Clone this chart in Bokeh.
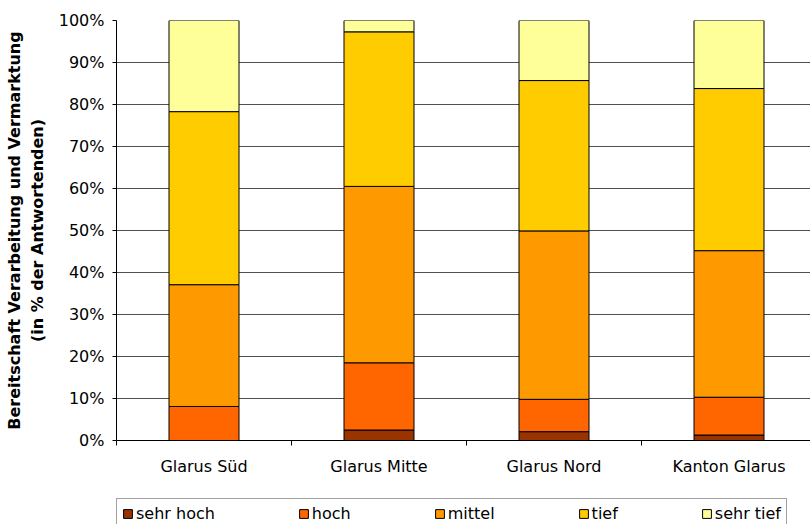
from bokeh.plotting import figure
from bokeh.layouts import column
from bokeh.models import Range1d, FixedTicker, PrintfTickFormatter, Legend, LegendItem, ColumnDataSource
from bokeh.embed import file_html
from bokeh.resources import INLINE

categories = ["Glarus Süd", "Glarus Mitte", "Glarus Nord", "Kanton Glarus"]
series = ["sehr hoch", "hoch", "mittel", "tief", "sehr tief"]
sehr_hoch = [0.0, 2.5, 2.1, 1.3]
hoch = [8.1, 16.0, 7.7, 9.0]
mittel = [29.0, 42.0, 40.1, 34.9]
tief = [41.2, 36.8, 35.8, 38.6]
sehr_tief = [21.7, 2.7, 14.3, 16.2]
colors = ["#993300", "#FF6600", "#FF9900", "#FFCC00", "#FFFF99"]
y_ticks = [0, 10, 20, 30, 40, 50, 60, 70, 80, 90, 100]

FONT = "DejaVu Sans"
W = 810

xpos = [i + 0.5 for i in range(len(categories))]
data = {"x": xpos, "sehr hoch": sehr_hoch, "hoch": hoch, "mittel": mittel,
        "tief": tief, "sehr tief": sehr_tief}
src = ColumnDataSource(data)

p = figure(width=W, height=498, output_backend="svg", toolbar_location=None,
           x_range=Range1d(0, (W - 116) / 175), y_range=Range1d(0, 100),
           min_border_left=116, min_border_right=0, min_border_top=20,
           min_border_bottom=58)
p.outline_line_color = None
p.background_fill_color = "white"
p.border_fill_color = "white"

p.vbar_stack(series, x="x", width=0.4, source=src, color=colors,
             line_color="black", line_width=1)

# y axis
p.yaxis.ticker = FixedTicker(ticks=y_ticks)
p.yaxis.formatter = PrintfTickFormatter(format="%d%%")
p.yaxis.major_label_text_font = FONT
p.yaxis.major_label_text_font_size = "16px"
p.yaxis.major_label_text_color = "black"
p.yaxis.major_tick_out = 4
p.yaxis.major_tick_in = 0
p.yaxis.minor_tick_line_color = None
p.yaxis.major_label_standoff = 8
p.yaxis.axis_line_color = "black"
p.yaxis.major_tick_line_color = "black"
p.yaxis.axis_label = "Bereitschaft Verarbeitung und Vermarktung\n(in % der Antwortenden)"
p.yaxis.axis_label_text_font = FONT
p.yaxis.axis_label_text_font_size = "16px"
p.yaxis.axis_label_text_font_style = "bold"
p.yaxis.axis_label_text_color = "black"
p.yaxis.axis_label_standoff = 9

p.ygrid.ticker = FixedTicker(ticks=y_ticks)
p.ygrid.grid_line_color = "#505050"
p.xgrid.grid_line_color = None

# x axis
p.xaxis.ticker = FixedTicker(ticks=xpos, minor_ticks=list(range(len(categories) + 1)))
p.xaxis.major_label_overrides = {x: c for x, c in zip(xpos, categories)}
p.xaxis.major_label_text_font = FONT
p.xaxis.major_label_text_font_size = "16px"
p.xaxis.major_label_text_color = "black"
p.xaxis.major_tick_line_color = None
p.xaxis.major_tick_out = 5
p.xaxis.minor_tick_out = 5
p.xaxis.minor_tick_in = 0
p.xaxis.minor_tick_line_color = "black"
p.xaxis.major_label_standoff = 11
p.xaxis.axis_line_color = "black"

# legend strip (its own small figure below the chart)
lg = figure(width=W, height=524 - 498, output_backend="svg", toolbar_location=None,
            x_range=Range1d(0, 1), y_range=Range1d(1000, 1001),
            min_border_left=116, min_border_right=0, min_border_top=0,
            min_border_bottom=0)
lg.axis.visible = False
lg.grid.visible = False
lg.outline_line_color = None
lg.background_fill_color = "white"
lg.border_fill_color = "white"
lg_renderers = lg.vbar_stack(series, x="x", width=0.4, source=src, color=colors,
                             line_color="black", line_width=1)

items = [LegendItem(label=s, renderers=[r]) for s, r in zip(series, lg_renderers)]
legend = Legend(items=items, orientation="horizontal", location="top_left",
                label_text_font=FONT, label_text_font_size="16px",
                label_text_color="black", glyph_width=11, glyph_height=11,
                label_standoff=3, label_height=16, spacing=83, padding=5,
                margin=0, border_line_color="#444444", border_line_width=1,
                background_fill_color="white", background_fill_alpha=1)
lg.add_layout(legend, "center")

layout = column(p, lg, spacing=0)
open("out.html", "w").write(file_html(layout, INLINE))
